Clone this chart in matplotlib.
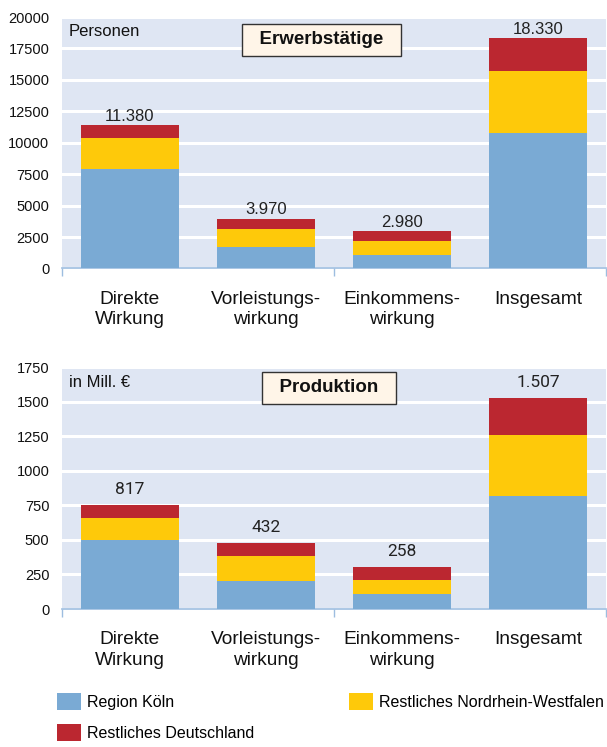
import numpy as np
import matplotlib.pyplot as plt
from matplotlib.patches import Patch

# Daten
kategorien = ["Direkte\nWirkung", "Vorleistungs-\nwirkung", "Einkommens-\nwirkung", "Insgesamt"]
serien = ["Region Köln", "Restliches Nordrhein-Westfalen", "Restliches Deutschland"]
farben = ["#7aaad4", "#fec90a", "#bb2730"]

# Erwerbstätige (Personen)
erw_koeln = [7900, 1670, 1080, 10750]
erw_nrw = [2450, 1480, 1070, 4950]
erw_de = [1030, 820, 830, 2630]
erw_labels = ["11.380", "3.970", "2.980", "18.330"]
erw_yticks = [0, 2500, 5000, 7500, 10000, 12500, 15000, 17500, 20000]

# Produktion (in Mill. €)
prod_koeln = [498, 203, 109, 820]
prod_nrw = [160, 179, 104, 437]
prod_de = [96, 97, 92, 269]
prod_labels = ["817", "432", "258", "1.507"]
prod_yticks = [0, 250, 500, 750, 1000, 1250, 1500, 1750]

bg = "#dfe6f3"
achse = "#9dbde0"

fig = plt.figure(figsize=(6.07, 7.47), dpi=100)
plt.rcParams['font.family'] = ['Liberation Sans', 'DejaVu Sans']


def panel(rect, werte, labels, yticks, titel, titelpos, einheit, einheitpos,
          lab_font, lab_size, lab_off):
    ax = fig.add_axes(rect)
    ax.set_facecolor(bg)
    x = np.arange(len(kategorien))
    unten = np.zeros(len(kategorien))
    for w, f in zip(werte, farben):
        ax.bar(x, w, bottom=unten, width=0.72, color=f, zorder=3)
        unten = unten + np.array(w)
    for xi, tot, lab in zip(x, unten, labels):
        ax.annotate(lab, (xi, tot), xytext=(0, lab_off), textcoords='offset pixels',
                    ha='center', va='center', fontsize=lab_size, color='#222222',
                    family=lab_font)
    ax.set_xlim(-0.5, 3.5)
    ax.set_ylim(yticks[0], yticks[-1])
    ax.set_yticks(yticks)
    ax.set_yticklabels([str(t) for t in yticks], fontsize=10.5, color='#111111')
    ax.tick_params(axis='y', length=0, pad=9)
    ax.grid(axis='y', color='white', linewidth=2.2, zorder=1)
    ax.set_axisbelow(True)
    ax.set_xticks(x)
    ax.set_xticklabels(kategorien, fontsize=13.75, linespacing=1.28, color='#111111')
    ax.tick_params(axis='x', which='major', length=0, pad=16)
    ax.set_xticks([-0.5, 1.5, 3.5], minor=True)
    ax.tick_params(axis='x', which='minor', length=6, color=achse, width=1)
    for s in ['top', 'right', 'left']:
        ax.spines[s].set_visible(False)
    ax.spines['bottom'].set_color(achse)
    ax.spines['bottom'].set_linewidth(1.2)
    ax.text(titelpos[0], titelpos[1], "  " + titel + "  ", transform=ax.transAxes,
            ha='center', va='center', fontsize=13.5, fontweight='bold', color='#111111',
            zorder=5, bbox=dict(boxstyle='square,pad=0.4', facecolor='#fff5e8',
                                edgecolor='#333333', linewidth=1.0))
    ax.text(einheitpos[0], einheitpos[1], einheit, transform=ax.transAxes,
            ha='left', va='center', fontsize=12, color='#111111', zorder=5)
    return ax


panel([0.1021, 0.6406, 0.8962, 0.3366], [erw_koeln, erw_nrw, erw_de], erw_labels,
      erw_yticks, "Erwerbstätige", (0.477, 0.91), "Personen", (0.013, 0.944),
      ['Liberation Sans'], 12, 9)
panel([0.1021, 0.1847, 0.8962, 0.324], [prod_koeln, prod_nrw, prod_de], prod_labels,
      prod_yticks, "Produktion", (0.491, 0.915), "in Mill. €", (0.013, 0.934),
      ['Roboto', 'DejaVu Sans'], 12.5, 15)

handles = [Patch(facecolor=farben[0]), Patch(facecolor=farben[2]), Patch(facecolor=farben[1])]
namen = [serien[0], serien[2], serien[1]]
fig.legend(handles, namen, ncol=2, loc='upper left', bbox_to_anchor=(57 / 607, 1 - 693 / 747),
           frameon=False, borderpad=0, borderaxespad=0, fontsize=11.5,
           handlelength=1.5, handleheight=1.25, handletextpad=0.4,
           labelspacing=0.875, columnspacing=5.9)

fig.savefig("out.png", dpi=100)
